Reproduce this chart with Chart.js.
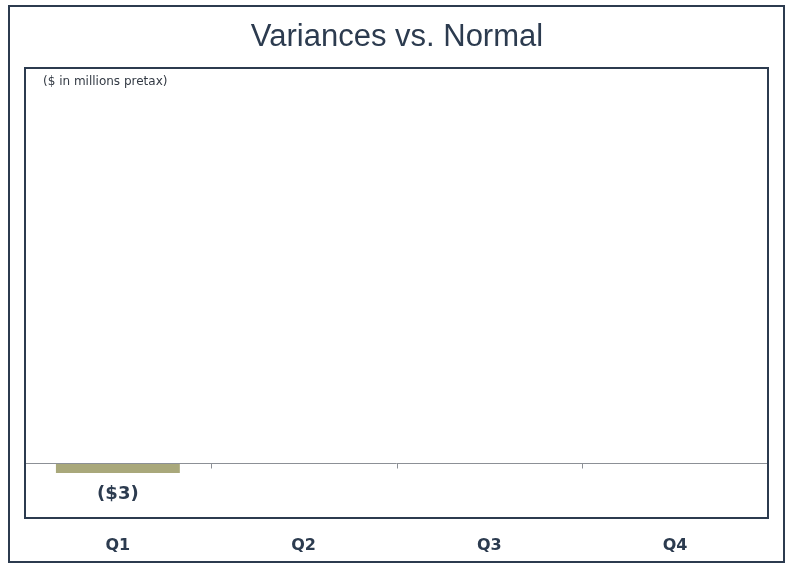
<!DOCTYPE html>
<html>
<head>
<meta charset="utf-8">
<script src="https://cdn.jsdelivr.net/npm/chart.js@4/dist/chart.umd.min.js"></script>
<style>
  html, body { margin: 0; padding: 0; background: #ffffff; }
  #wrap { width: 788px; height: 564px; }
</style>
</head>
<body>
<div id="wrap"><canvas id="chart" width="788" height="564"></canvas></div>
<script>
// Quarterly variances vs. normal, $ millions pretax
const quarters = ['Q1', 'Q2', 'Q3', 'Q4'];
const variances = [-3, null, null, null];
const valueLabels = ['($3)', '', '', ''];

const titleText = 'Variances vs. Normal';
const unitsNote = '($ in millions pretax)';

const ink = '#2c3b4f';

// Frames, heading, units note, zero line with quarter dividers, value labels
const decorations = {
  id: 'decorations',
  beforeDraw(chart) {
    const { ctx } = chart;
    ctx.save();
    ctx.fillStyle = '#ffffff';
    ctx.fillRect(0, 0, chart.width, chart.height);
    ctx.restore();
  },
  afterDatasetsDraw(chart) {
    const { ctx, chartArea: a, scales } = chart;
    const x = scales.x, y = scales.y;
    ctx.save();

    // zero line
    const y0 = Math.round(y.getPixelForValue(0)) + 0.5;
    ctx.strokeStyle = '#8c9096';
    ctx.lineWidth = 1;
    ctx.beginPath();
    ctx.moveTo(a.left, y0);
    ctx.lineTo(a.right, y0);
    // dividers between quarters
    for (let i = 1; i < quarters.length; i++) {
      const px = Math.round((x.getPixelForValue(i - 1) + x.getPixelForValue(i)) / 2) + 0.5;
      ctx.moveTo(px, y0);
      ctx.lineTo(px, y0 + 5);
    }
    ctx.stroke();

    // value labels under the bars
    const meta = chart.getDatasetMeta(0);
    ctx.fillStyle = ink;
    ctx.font = 'bold 18px "DejaVu Sans", Verdana, sans-serif';
    ctx.textAlign = 'center';
    ctx.textBaseline = 'middle';
    meta.data.forEach((bar, i) => {
      if (variances[i] === null || !valueLabels[i]) return;
      const bottom = Math.max(bar.y, bar.base);
      ctx.fillText(valueLabels[i], bar.x, bottom + 21);
    });

    // plot frame
    ctx.strokeStyle = ink;
    ctx.lineWidth = 2;
    ctx.strokeRect(a.left, a.top, a.right - a.left, a.bottom - a.top);

    // outer frame
    ctx.strokeRect(9, 6, 775, 556);

    // heading
    ctx.fillStyle = ink;
    ctx.font = '31px "Liberation Sans", Arial, sans-serif';
    ctx.textAlign = 'center';
    ctx.textBaseline = 'middle';
    ctx.fillText(titleText, 397, 37);

    // units note
    ctx.fillStyle = '#333a44';
    ctx.font = '12px "DejaVu Sans", Verdana, sans-serif';
    ctx.textAlign = 'left';
    ctx.fillText(unitsNote, 43, 82);

    ctx.restore();
  }
};

new Chart(document.getElementById('chart'), {
  type: 'bar',
  data: {
    labels: quarters,
    datasets: [{
      data: variances,
      backgroundColor: '#a9a87b',
      borderWidth: 0,
      categoryPercentage: 1,
      barPercentage: 0.667
    }]
  },
  options: {
    responsive: false,
    animation: false,
    layout: { padding: { left: 25, right: 20, top: 68, bottom: 0 } },
    plugins: { legend: { display: false }, tooltip: { enabled: false }, title: { display: false } },
    scales: {
      x: {
        grid: { display: false },
        border: { display: false },
        ticks: {
          color: ink,
          font: { family: '"DejaVu Sans", Verdana, sans-serif', size: 16, weight: 'bold' },
          padding: 10,
          maxRotation: 0
        },
        afterFit(scale) { scale.height = 46; }
      },
      y: {
        display: false,
        min: -16.5,
        max: 118.8
      }
    }
  },
  plugins: [decorations]
});
</script>
</body>
</html>
